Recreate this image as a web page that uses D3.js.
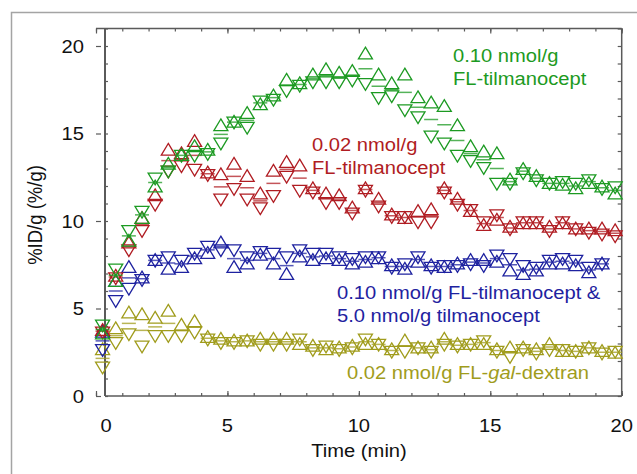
<!DOCTYPE html>
<html>
<head>
<meta charset="utf-8">
<script src="https://cdn.jsdelivr.net/npm/d3@7"></script>
<style>
  body { margin: 0; background: #fff; }
  svg { display: block; font-family: "Liberation Sans", Arial, sans-serif; }
</style>
</head>
<body>
<div id="chart"></div>
<script>
// --- DATA ---
const times = [0.25, 0.75, 1.25, 1.75, 2.25, 2.75, 3.25, 3.75, 4.25, 4.75,
               5.25, 5.75, 6.25, 6.75, 7.25, 7.75, 8.25, 8.75, 9.25, 9.75,
               10.25, 10.75, 11.25, 11.75, 12.25, 12.75, 13.25, 13.75, 14.25, 14.75,
               15.25, 15.75, 16.25, 16.75, 17.25, 17.75, 18.25, 18.75, 19.25, 19.75];

// 0.10 nmol/g FL-tilmanocept
const greenUp   = [3.6, 6.6, 8.9, 10.2, 12.0, 13.3, 13.8, 14.3, 14.1, 15.5,
                   15.7, 16.2, 16.7, 17.2, 18.1, 17.9, 18.4, 18.7, 18.5, 18.6,
                   19.6, 18.4, 17.9, 18.4, 17.1, 16.8, 16.6, 15.5, 14.3, 14.0,
                   13.9, 12.4, 13.0, 12.6, 12.2, 12.1, 11.9, 12.2, 12.0, 11.6];
const greenDown = [4.0, 7.2, 9.4, 10.5, 12.4, 12.8, 13.7, 13.7, 13.8, 14.4,
                   15.6, 15.3, 16.8, 16.9, 17.4, 17.7, 17.9, 17.9, 17.9, 18.0,
                   17.8, 17.0, 17.1, 16.3, 15.9, 14.8, 14.4, 13.7, 13.4, 13.0,
                   12.1, 12.1, 12.7, 12.3, 12.1, 12.2, 12.1, 12.3, 11.8, 11.9];

// 0.02 nmol/g FL-tilmanocept
const redUp   = [3.8, 6.9, 8.8, 10.2, 11.5, 14.1, 13.9, 14.6, 12.8, 12.7,
                 13.3, 12.6, 11.6, 12.9, 13.4, 13.2, 11.9, 11.6, 11.5, 10.8,
                 11.9, 11.3, 10.4, 10.2, 10.6, 10.7, 11.9, 11.3, 10.6, 9.8,
                 10.1, 9.7, 9.9, 9.9, 9.7, 9.9, 9.6, 9.6, 9.6, 9.5];
const redDown = [3.6, 6.7, 8.3, 9.4, 10.9, 12.8, 13.1, 12.9, 12.6, 11.2,
                 11.8, 11.2, 10.7, 11.4, 12.5, 11.7, 11.6, 11.0, 11.0, 10.4,
                 11.7, 10.8, 10.2, 10.2, 9.9, 9.9, 11.6, 10.9, 10.6, 9.9,
                 10.3, 9.5, 9.9, 9.9, 9.4, 9.9, 9.5, 9.3, 9.2, 9.1];

// 0.10 nmol/g FL-tilmanocept & 5.0 nmol/g tilmanocept (ends one point earlier)
const blueUp   = [3.7, 6.6, 7.4, 6.8, 7.8, 7.3, 7.4, 7.9, 8.2, 8.8,
                  7.4, 7.6, 8.1, 7.6, 7.0, 8.0, 7.8, 7.9, 7.8, 7.6,
                  7.7, 7.9, 7.5, 7.3, 7.7, 7.5, 7.4, 7.6, 7.8, 7.8,
                  7.7, 7.2, 7.0, 7.2, 7.6, 7.6, 7.5, 7.1, 7.6];
const blueDown = [2.6, 5.4, 6.1, 6.6, 7.7, 7.9, 7.7, 8.1, 8.5, 8.3,
                  8.3, 7.9, 8.2, 8.1, 7.9, 8.3, 8.1, 8.1, 7.9, 7.8,
                  7.9, 7.9, 7.3, 7.5, 7.9, 7.3, 7.4, 7.4, 7.5, 7.4,
                  8.0, 7.8, 7.4, 7.3, 7.7, 7.8, 7.7, 7.3, 7.5];

// 0.02 nmol/g FL-gal-dextran
const oliveUp   = [2.7, 3.9, 4.8, 4.7, 4.5, 4.9, 4.1, 4.3, 3.4, 3.3,
                   3.2, 3.2, 3.3, 3.3, 3.3, 3.0, 2.9, 2.7, 2.8, 2.9,
                   3.0, 3.0, 2.7, 3.2, 2.8, 2.8, 3.3, 3.0, 3.0, 3.0,
                   2.7, 2.8, 2.8, 2.7, 3.0, 2.6, 2.6, 2.8, 2.6, 2.5];
const oliveDown = [1.6, 3.0, 3.5, 2.8, 3.4, 3.4, 3.4, 3.6, 3.2, 3.0,
                   3.0, 3.1, 2.9, 2.9, 2.9, 3.2, 2.6, 2.8, 2.6, 2.7,
                   3.2, 2.9, 2.5, 2.5, 2.7, 2.5, 2.9, 2.8, 2.9, 3.1,
                   2.5, 2.2, 2.6, 2.4, 2.6, 2.6, 2.5, 2.7, 2.4, 2.5];

const xTicks = [0, 5, 10, 15, 20];
const yTicks = [0, 5, 10, 15, 20];
const xMinor = d3.range(0, 21, 1);
const yMinor = d3.range(0, 22, 1);

const xTitle = "Time (min)";
const yTitle = "%ID/g (%/g)";

// --- SETUP ---
const width = 637, height = 474;
const stretch = 1.09; // picture is a bit wider than the font metrics
const fontSize = 18.5;

const colors = { green: "#1c9a22", red: "#b01c22", blue: "#1e22a0", olive: "#a09c1c" };

const svg = d3.select("#chart").append("svg")
    .attr("width", width).attr("height", height);

// outer frame of the figure panel
svg.append("rect")
    .attr("x", 11.5).attr("y", 12.5)
    .attr("width", 800).attr("height", 600)
    .attr("fill", "none").attr("stroke", "#a4a4a4").attr("stroke-width", 1.5);

// Scales
const xScale = d3.scaleLinear().domain([0, 20]).range([96, 621.7]);
const yScale = d3.scaleLinear().domain([0, 21]).range([396, 28.5]);

const x0 = xScale(0), x1 = xScale(20);
const yTop = yScale(21), yBot = yScale(0);
const spineX = x0 + 9; // left spine sits slightly right of t = 0

// Axes (ticks only, frame drawn separately)
const axisColor = "#5a5a5a";
function tickAxis(gen, transform) {
    const g = svg.append("g").attr("transform", transform).call(gen);
    g.select(".domain").remove();
    g.selectAll("text").remove();
    g.selectAll("line").attr("stroke", axisColor).attr("stroke-width", 1.2);
    return g;
}
// bottom, inward
tickAxis(d3.axisTop(xScale).tickValues(xMinor).tickSize(3), `translate(0,${yBot})`);
tickAxis(d3.axisTop(xScale).tickValues(xTicks).tickSize(5), `translate(0,${yBot})`);
// top, inward
tickAxis(d3.axisBottom(xScale).tickValues(xMinor).tickSize(3), `translate(0,${yTop})`);
tickAxis(d3.axisBottom(xScale).tickValues(xTicks).tickSize(5), `translate(0,${yTop})`);
// left: minor inward from spine, major as short outside dashes
tickAxis(d3.axisRight(yScale).tickValues(yMinor).tickSize(3), `translate(${spineX},0)`);
tickAxis(d3.axisLeft(yScale).tickValues(yTicks).tickSize(5), `translate(${x0 + 5},0)`);
// right, inward
tickAxis(d3.axisLeft(yScale).tickValues(yMinor).tickSize(4), `translate(${x1},0)`);

// Frame lines
const frame = svg.append("g").attr("stroke", axisColor).attr("fill", "none");
frame.append("line").attr("x1", x0).attr("x2", x1).attr("y1", yTop).attr("y2", yTop).attr("stroke-width", 1.5);
frame.append("line").attr("x1", spineX).attr("x2", x1).attr("y1", yBot).attr("y2", yBot).attr("stroke-width", 1.5);
frame.append("line").attr("x1", x1).attr("x2", x1).attr("y1", yTop).attr("y2", yBot).attr("stroke-width", 1.5);
frame.append("line").attr("x1", spineX).attr("x2", spineX).attr("y1", yTop).attr("y2", yBot).attr("stroke-width", 2);

// Tick labels
function addText(parent, x, y, str, anchor) {
    return parent.append("text")
        .attr("transform", `translate(${x},${y}) scale(${stretch},1)`)
        .attr("text-anchor", anchor || "start")
        .attr("font-size", fontSize)
        .text(str);
}
const labelsG = svg.append("g").attr("fill", "#111");
xTicks.forEach(t => {
    const nudge = t === 0 ? 10 : 0; // the "0" is set off the corner
    addText(labelsG, xScale(t) + nudge, 432, t, "middle");
});
yTicks.forEach(v => {
    addText(labelsG, x0 - 12, yScale(v) + 6.5, v, "end");
});

addText(labelsG, 359, 457, xTitle, "middle");
labelsG.append("text")
    .attr("transform", `translate(42,215) rotate(-90) scale(1,${stretch})`)
    .attr("text-anchor", "middle")
    .attr("font-size", fontSize)
    .text(yTitle);

// --- MARKERS ---
const series = [
    { up: oliveUp, down: oliveDown, color: colors.olive },
    { up: blueUp,  down: blueDown,  color: colors.blue },
    { up: redUp,   down: redDown,   color: colors.red },
    { up: greenUp, down: greenDown, color: colors.green }
];

const triUp   = "M0,-5.8L7,5.8L-7,5.8Z";
const triDown = "M0,5.8L7,-5.8L-7,-5.8Z";

series.forEach(s => {
    const pts = s.up.map((u, i) => ({ t: times[i], up: u, down: s.down[i], mean: (u + s.down[i]) / 2 }));
    const g = svg.append("g");

    g.selectAll(".mean").data(pts).enter().append("path")
        .attr("class", "mean")
        .attr("d", "M-7,0L7,0")
        .attr("transform", d => `translate(${xScale(d.t)},${yScale(d.mean)})`)
        .attr("stroke", s.color).attr("stroke-width", 1.5).attr("stroke-opacity", 0.75);

    g.selectAll(".up").data(pts).enter().append("path")
        .attr("class", "up")
        .attr("d", triUp)
        .attr("transform", d => `translate(${xScale(d.t)},${yScale(d.up)})`)
        .attr("fill", "none").attr("stroke", s.color).attr("stroke-width", 1.3);

    g.selectAll(".down").data(pts).enter().append("path")
        .attr("class", "down")
        .attr("d", triDown)
        .attr("transform", d => `translate(${xScale(d.t)},${yScale(d.down)})`)
        .attr("fill", "none").attr("stroke", s.color).attr("stroke-width", 1.3);
});

// --- SERIES LABELS ---
const greenLabel = ["0.10 nmol/g", "FL-tilmanocept"];
const redLabel   = ["0.02 nmol/g", "FL-tilmanocept"];
const blueLabel  = ["0.10 nmol/g FL-tilmanocept &", "5.0 nmol/g tilmanocept"];

function addLines(lines, x, y, color) {
    const g = svg.append("g").attr("fill", color);
    lines.forEach((l, i) => addText(g, x, y + i * 23, l));
}
addLines(greenLabel, 453, 61.5, colors.green);
addLines(redLabel, 312, 150.5, colors.red);
addLines(blueLabel, 337, 298.5, colors.blue);

const oliveText = svg.append("text")
    .attr("transform", `translate(347,378.5) scale(${stretch},1)`)
    .attr("font-size", fontSize)
    .attr("fill", colors.olive);
oliveText.append("tspan").text("0.02 nmol/g FL-");
oliveText.append("tspan").attr("font-style", "italic").text("gal");
oliveText.append("tspan").text("-dextran");
</script>
</body>
</html>
